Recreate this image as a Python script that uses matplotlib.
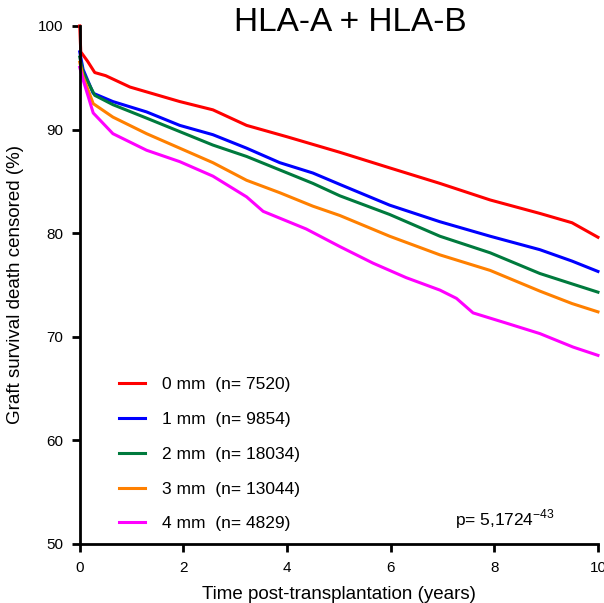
import matplotlib.pyplot as plt

# survival curves (time in years, survival in %)
t_0mm = [0, 0.02, 0.15, 0.29, 0.5, 0.97, 1.93, 2.57, 3.22, 4.0, 5.02, 5.98, 6.95, 7.92, 8.88, 9.5, 10]
s_0mm = [100, 97.5, 96.6, 95.5, 95.2, 94.1, 92.7, 91.9, 90.4, 89.3, 87.8, 86.3, 84.8, 83.2, 81.9, 81.0, 79.6]

t_1mm = [0, 0.065, 0.26, 0.64, 1.29, 1.93, 2.57, 3.22, 3.86, 4.5, 5.02, 5.98, 6.95, 7.92, 8.88, 9.5, 10]
s_1mm = [97.5, 95.8, 93.5, 92.7, 91.7, 90.4, 89.5, 88.2, 86.8, 85.8, 84.7, 82.7, 81.1, 79.7, 78.4, 77.3, 76.3]

t_2mm = [0, 0.065, 0.29, 0.64, 1.29, 1.93, 2.57, 3.22, 3.86, 4.5, 5.02, 5.98, 6.95, 7.92, 8.88, 9.5, 10]
s_2mm = [97.0, 95.5, 93.3, 92.4, 91.1, 89.8, 88.5, 87.4, 86.1, 84.8, 83.6, 81.8, 79.7, 78.1, 76.1, 75.1, 74.3]

t_3mm = [0, 0.065, 0.26, 0.64, 1.29, 1.93, 2.57, 3.22, 3.86, 4.5, 5.02, 5.98, 6.95, 7.92, 8.88, 9.5, 10]
s_3mm = [96.5, 95.1, 92.5, 91.2, 89.6, 88.2, 86.8, 85.1, 83.9, 82.6, 81.7, 79.7, 77.9, 76.4, 74.4, 73.2, 72.4]

t_4mm = [0, 0.065, 0.26, 0.45, 0.64, 1.29, 1.93, 2.57, 3.22, 3.54, 4.37, 5.02, 5.66, 6.3, 6.95, 7.27, 7.59, 8.24, 8.88, 9.52, 10]
s_4mm = [96.0, 94.8, 91.6, 90.6, 89.6, 88.0, 86.9, 85.5, 83.5, 82.1, 80.4, 78.7, 77.1, 75.7, 74.5, 73.7, 72.3, 71.3, 70.3, 69.0, 68.2]

groups = ["0 mm", "1 mm", "2 mm", "3 mm", "4 mm"]
n_pat = [7520, 9854, 18034, 13044, 4829]
colors = ["#ff0000", "#0000ff", "#007a3d", "#ff8000", "#ff00ff"]

plt.rcParams['font.family'] = ['Liberation Sans', 'DejaVu Sans']

fig = plt.figure(figsize=(6.04, 6.03), dpi=100)
ax = fig.add_axes([0.132, 0.098, 0.858, 0.859])

curves = [(t_0mm, s_0mm), (t_1mm, s_1mm), (t_2mm, s_2mm), (t_3mm, s_3mm), (t_4mm, s_4mm)]
for (t, s), g, n, c in zip(curves, groups, n_pat, colors):
    ax.plot(t, s, color=c, lw=2.2, label="%s  (n= %d)" % (g, n), clip_on=False)

ax.set_xlim(0, 10)
ax.set_ylim(50, 100)
ax.set_xticks([0, 2, 4, 6, 8, 10])
ax.set_yticks([50, 60, 70, 80, 90, 100])
ax.spines['top'].set_visible(False)
ax.spines['right'].set_visible(False)
ax.spines['left'].set_linewidth(2)
ax.spines['bottom'].set_linewidth(2)
ax.tick_params(direction='out', length=6, width=2, labelsize=11, pad=6)

ax.set_xlabel("Time post-transplantation (years)", fontsize=13.5, labelpad=8)
ax.set_ylabel("Graft survival death censored (%)", fontsize=13.5, labelpad=10)

leg = ax.legend(loc='upper left', bbox_to_anchor=(0.045, 0.352), frameon=False,
                fontsize=12.5, handlelength=1.5, handletextpad=1.0, labelspacing=1.13)

ax.text(0.725, 0.035, r"p= 5,1724$^{\mathregular{-43}}$", transform=ax.transAxes, fontsize=12.5)

fig.text(0.58, 0.962, "HLA-A + HLA-B", fontsize=24, ha='center', va='center')

fig.savefig("out.png", dpi=100)
